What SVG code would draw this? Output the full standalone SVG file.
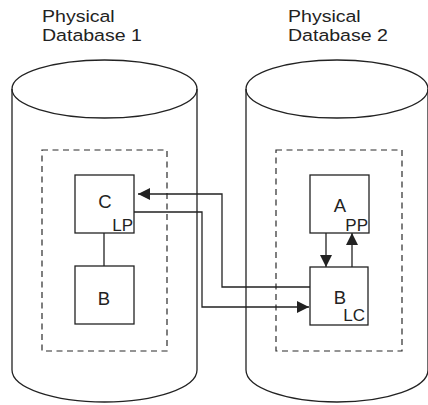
<svg xmlns="http://www.w3.org/2000/svg" width="428" height="405" viewBox="0 0 428 405">
<style>
.s{fill:none;stroke:#222;stroke-width:1.3}
.box{fill:#fff;stroke:#222;stroke-width:1.3}
.dash{fill:none;stroke:#2a2a2a;stroke-width:1.2;stroke-dasharray:6,4.5}
text{font-family:"Liberation Sans",Arial,sans-serif;fill:#222}
.t{font-size:17px}
.l{font-size:18.5px;text-anchor:middle}
.sm{font-size:17px;text-anchor:end}
</style>
<defs>
<marker id="ah" markerUnits="userSpaceOnUse" markerWidth="12" markerHeight="12" refX="12" refY="6" orient="auto">
<path d="M0,0 L12,6 L0,12 z" fill="#222"/>
</marker>
</defs>
<g id="db1">
<path class="s" d="M12,89 L12,370 A92.5,32 0 0 0 197,370 L197,89"/>
<ellipse class="s" cx="104.5" cy="89" rx="92.5" ry="29"/>
<g transform="translate(42,0) scale(1.15,1)">
<text class="t" x="0" y="22">Physical</text>
<text class="t" x="0" y="40.7">Database 1</text>
</g>
<rect class="dash" x="42" y="150" width="125" height="201"/>
</g>
<g id="db2">
<path class="s" d="M246,89 L246,370 A91,32 0 0 0 428,370 L428,89"/>
<ellipse class="s" cx="337" cy="89" rx="91" ry="29"/>
<g transform="translate(288,0) scale(1.15,1)">
<text class="t" x="0" y="22">Physical</text>
<text class="t" x="0" y="40.7">Database 2</text>
</g>
<rect class="dash" x="276" y="150" width="126" height="201"/>
</g>
<g id="connectors">
<path class="s" d="M104,233 V266"/>
<path class="s" d="M310,287 H222 V194 H138" marker-end="url(#ah)"/>
<path class="s" d="M134,212 H202 V307 H309" marker-end="url(#ah)"/>
<path class="s" d="M326,233 V267" marker-end="url(#ah)"/>
<path class="s" d="M352,267 V233" marker-end="url(#ah)"/>
</g>
<g id="nodeC">
<rect class="box" x="75" y="175" width="59" height="58"/>
<text class="l" x="105" y="208">C</text>
<text class="sm" x="133" y="231">LP</text>
</g>
<g id="nodeB1">
<rect class="box" x="75" y="266" width="59" height="58"/>
<text class="l" x="104" y="305">B</text>
</g>
<g id="nodeA">
<rect class="box" x="310" y="175" width="59" height="58"/>
<text class="l" x="340" y="212">A</text>
<text class="sm" x="368" y="231">PP</text>
</g>
<g id="nodeB2">
<rect class="box" x="310" y="267" width="58" height="58"/>
<text class="l" x="340" y="304">B</text>
<text class="sm" x="365" y="321">LC</text>
</g>
</svg>
